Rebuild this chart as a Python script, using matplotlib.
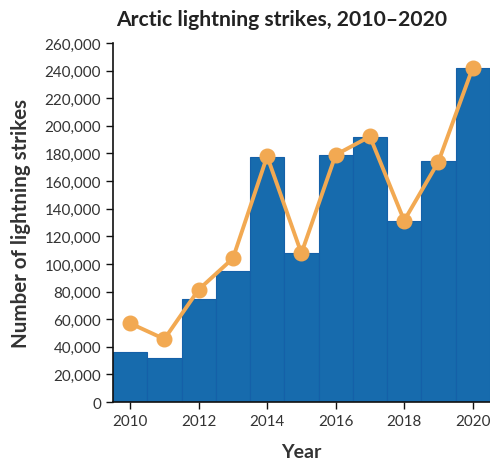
import numpy as np
import matplotlib
matplotlib.use("Agg")
import matplotlib.pyplot as plt
from matplotlib.ticker import FuncFormatter

plt.rcParams["font.family"] = ["Lato", "DejaVu Sans"]

years = [2010, 2011, 2012, 2013, 2014, 2015, 2016, 2017, 2018, 2019, 2020]
bar_strikes = [36000, 31900, 74600, 95000, 177800, 107700, 179000, 191800, 131400, 174400, 242000]
line_strikes = [57000, 45600, 81400, 104000, 178000, 107700, 179000, 192300, 131400, 174000, 242000]

fig = plt.figure(figsize=(4.9, 4.6), dpi=100)
ax = fig.add_axes([0.2306, 0.1239, 0.769, 0.7804])

ax.bar(years, bar_strikes, width=1.0, color="#176bad", edgecolor="#1560a8", linewidth=0.8, zorder=2)
ax.plot(years, line_strikes, color="#f2a952", linewidth=2.8, marker="o", markersize=10.5, zorder=3)

ax.set_xlim(2009.5, 2020.5)
ax.set_ylim(0, 260000)
ax.set_yticks(np.arange(0, 260001, 20000))
ax.set_xticks([2010, 2012, 2014, 2016, 2018, 2020])
ax.yaxis.set_major_formatter(FuncFormatter(lambda v, p: f"{int(v):,}"))

for s in ["top", "right"]:
    ax.spines[s].set_visible(False)
for s in ["left", "bottom"]:
    ax.spines[s].set_linewidth(1.2)
    ax.spines[s].set_color("#111111")

ax.tick_params(axis="both", labelsize=10.9, colors="#111111", labelcolor="#333333", length=5, width=1)

fig.text(0.5755, 0.957, "Arctic lightning strikes, 2010\u20132020", fontsize=15.2, fontweight="bold",
         color="#222222", ha="center", va="center")
ax.set_xlabel("Year", fontsize=14, fontweight="bold", color="#333333", labelpad=11)
ax.set_ylabel("Number of lightning strikes", fontsize=14.8, fontweight="bold", color="#333333", labelpad=10)

fig.savefig("out.png", dpi=100)
